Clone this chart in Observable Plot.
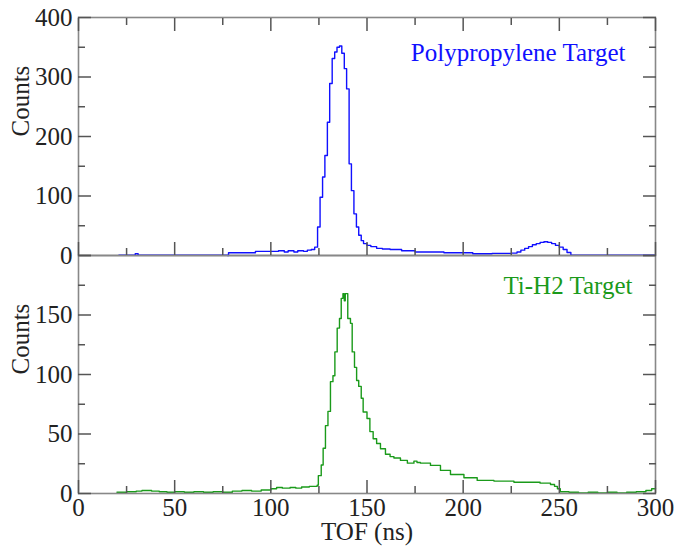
<!DOCTYPE html>
<html><head><meta charset="utf-8">
<script src="https://cdn.jsdelivr.net/npm/d3@7"></script>
<script src="https://cdn.jsdelivr.net/npm/@observablehq/plot@0.6"></script>
<style>
body{margin:0;background:#fff}
#wrap{position:relative;width:679px;height:553px}
#wrap svg{position:absolute;left:0;top:0}
</style></head><body><div id="wrap"></div>
<script>
// Polypropylene target: bin left edges (ns) and counts
const polyTof = [21, 29.5, 31, 77.5, 78, 92, 104, 107, 109, 112, 114, 117, 119, 121, 122.8, 124.3, 125.6, 126.9, 128.1, 129.4, 130.6, 131.9, 133.2, 134.4, 135.7, 136.9, 138.2, 139.4, 140.7, 141.9, 143.2, 144.5, 145.7, 147, 148.2, 150, 152, 155, 158, 162, 168, 175, 190, 205, 215, 225, 228, 230, 232, 234, 236, 238, 240, 242, 244, 246, 248, 250, 252, 254, 256, 300];
const polyCounts = [0.5, 3, 0.5, 0, 4.5, 7, 8, 6, 8, 6, 8, 7, 9, 10, 14, 48, 98, 132, 168, 224, 289, 331, 342, 350, 352, 340, 314, 280, 154, 109, 70, 48, 34, 25, 20, 17, 15, 12, 11, 10, 8, 6, 4.5, 3, 3.5, 4, 6, 9, 12, 15, 18, 20, 22, 23, 22, 20, 17, 14, 10, 5, 0.5, 0.5];

// Ti-H2 target: bin left edges (ns) and counts
const tiTof = [20, 25, 30, 33, 38, 42, 46, 50, 55, 60, 65, 70, 75, 80, 85, 90, 95, 100, 103, 106, 110, 113, 116, 120, 123, 124.1, 124.7, 126.2, 127.2, 128.4, 129.7, 131, 132.3, 133.3, 134.5, 135.7, 136.6, 137.5, 138.2, 138.7, 140, 141.4, 142.3, 143.5, 144.6, 145.7, 147, 148, 150, 151.5, 153.2, 155, 157, 159.6, 162, 164, 167.4, 171, 174.4, 176, 177.8, 183, 188.2, 193.4, 200.4, 207.3, 216, 226.4, 233, 240, 245.4, 247.5, 249, 250.5, 255, 260, 265, 270, 275, 280, 285, 290, 295, 298, 300];
const tiCounts = [1, 1.5, 2, 2.5, 2, 1.5, 1, 1.5, 1, 1.5, 1, 1.5, 1, 2, 2.5, 2, 3, 4, 5, 4.5, 5, 4.5, 5.5, 6, 6, 7, 15, 24, 38, 57, 69, 94, 99, 119, 139, 147, 164, 168, 162, 168, 147, 143, 119, 106, 95, 90, 80, 68.5, 63, 52, 46, 42, 37.6, 33, 31, 29.8, 27.8, 25.5, 27.2, 26, 25.5, 23.6, 19.4, 16, 13.2, 11, 10.4, 9.5, 9.5, 8.7, 7.6, 6, 4, 1.5, 1, 0.5, 1, 0.5, 1, 0.5, 1, 1.5, 2.5, 4, 4];

const xMajor = [0, 50, 100, 150, 200, 250, 300];
const xMinor = [25, 75, 125, 175, 225, 275];
const topYMajor = [0, 100, 200, 300, 400];
const topYMinor = [50, 150, 250, 350];
const botYMajor = [0, 50, 100, 150, 200];
const botYMinor = [25, 75, 125, 175];
const botYLabels = [0, 50, 100, 150];

const blue = "#1010ff";
const green = "#1a9a1a";
const FONT = "Liberation Serif, Times New Roman, serif";
const FS = 25;
const tickStroke = "#555";

function ticks(axis, values, anchor, size) {
  return axis(values, {anchor, tickSize: size, tickFormat: () => "", stroke: tickStroke, strokeWidth: 1.5, label: null});
}

function panel({tof, counts, color, yDomain, yMajor, yMinor, yLabels, marginTop, marginBottom, topTicks, xLabels, title, titleDx, titleDy}) {
  const rows = tof.map((t, i) => ({t, c: counts[i]}));
  const marks = [
    Plot.line(rows, {x: "t", y: "c", curve: "step-after", stroke: color, strokeWidth: 1.4}),
    Plot.frame({stroke: "#888", strokeWidth: 1.6}),
    ticks(Plot.axisX, xMajor, "bottom", -13),
    ticks(Plot.axisX, xMinor, "bottom", -7),
    ticks(Plot.axisY, yMajor, "left", -13),
    ticks(Plot.axisY, yMinor, "left", -7),
    ticks(Plot.axisY, yMajor, "right", -13),
    ticks(Plot.axisY, yMinor, "right", -7),
    Plot.axisY(yLabels, {anchor: "left", tickSize: 0, tickPadding: 6, fill: "#222", fontSize: FS, label: null}),
    Plot.text(["Counts"], {frameAnchor: "left", dx: -58, rotate: -90, fill: "#222", fontSize: FS}),
    Plot.text([title], {frameAnchor: "top-right", textAnchor: "end", lineAnchor: "middle", dx: titleDx, dy: titleDy, fill: color, fontSize: FS})
  ];
  if (topTicks) {
    marks.push(ticks(Plot.axisX, xMajor, "top", -13));
    marks.push(ticks(Plot.axisX, xMinor, "top", -7));
  }
  if (xLabels) {
    marks.push(Plot.axisX(xMajor, {anchor: "bottom", tickSize: 0, tickPadding: 5, fill: "#222", fontSize: FS, label: null}));
    marks.push(Plot.text(["TOF (ns)"], {frameAnchor: "bottom", dy: 46, fill: "#222", fontSize: FS}));
  }
  return Plot.plot({
    width: 679, height: 553,
    marginLeft: 78, marginRight: 24, marginTop, marginBottom,
    x: {domain: [0, 300]},
    y: {domain: yDomain},
    style: {fontFamily: FONT, fontSize: FS + "px", background: "transparent", overflow: "visible", color: "#222"},
    marks
  });
}

const wrap = document.getElementById("wrap");
wrap.append(panel({tof: tiTof, counts: tiCounts, color: green, yDomain: [0, 200], yMajor: botYMajor, yMinor: botYMinor, yLabels: botYLabels, marginTop: 255, marginBottom: 60, topTicks: false, xLabels: true, title: "Ti-H2 Target", titleDx: -23, titleDy: 30}));
wrap.append(panel({tof: polyTof, counts: polyCounts, color: blue, yDomain: [0, 400], yMajor: topYMajor, yMinor: topYMinor, yLabels: topYMajor, marginTop: 17, marginBottom: 298, topTicks: true, xLabels: false, title: "Polypropylene Target", titleDx: -30, titleDy: 35}));
</script>
</body></html>
